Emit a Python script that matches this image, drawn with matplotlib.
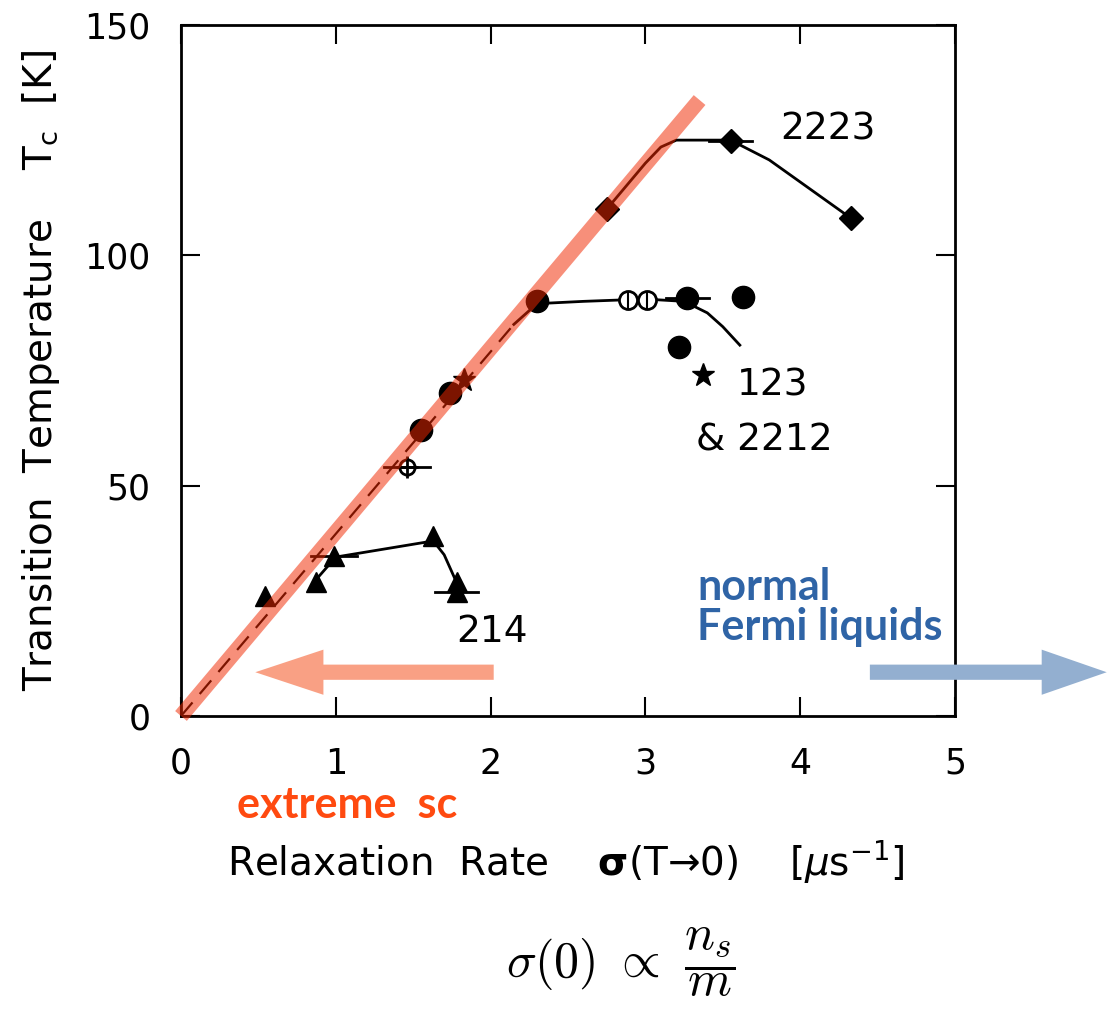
"""
Uemura plot: Tc vs muon relaxation rate.
"""

import matplotlib
matplotlib.use('Agg')
from matplotlib import pyplot as plt
from matplotlib.patches import FancyArrow

# 214 family (triangles)
x214 = [0.54, 0.87, 0.99, 1.63, 1.78, 1.78]
y214 = [26, 29, 34.7, 39, 29, 27]
curve214_x = [0.87, 1.0, 1.63, 1.70, 1.78]
curve214_y = [29.5, 34.5, 38, 35, 29]

# 123 & 2212 family (filled circles)
x123 = [1.55, 1.74, 2.30, 3.27, 3.63, 3.22]
y123 = [62, 70, 90, 90.7, 91, 80]
x123_open = [2.89, 3.01]
y123_open = [90.3, 90.3]
x123_cross = [1.46]
y123_cross = [54]
x2212_star = [1.83, 3.37]
y2212_star = [73, 74]
curve123_x = [2.15, 2.30, 2.6, 3.0, 3.25, 3.40, 3.50, 3.61]
curve123_y = [85, 89.5, 90, 90.5, 90, 87.5, 84.5, 80.5]

# 2223 family (diamonds)
x2223 = [2.75, 3.55, 4.33]
y2223 = [110, 124.8, 108]
curve2223_x = [2.75, 3.0, 3.1, 3.2, 3.55, 3.8, 4.33]
curve2223_y = [110, 120, 123.5, 125, 125, 120.7, 108]

# horizontal error bars (x, y, half width)
err_x = [0.99, 1.78, 1.46, 3.27, 3.55]
err_y = [34.7, 27, 54, 90.7, 124.8]
err_w = [0.15, 0.14, 0.15, 0.14, 0.14]

# linear trend line
trend_x = [0.0, 2.15]
trend_y = [0.0, 85]
band_x = [0.0, 3.35]
band_y = [0.0, 133.7]

fig = plt.figure(figsize=(11.07, 10.14), dpi=100)
ax = fig.add_axes([0.1635, 0.2939, 0.6992, 0.6815])

# black curves
ax.plot(trend_x, trend_y, color='black', lw=1.6, dashes=(8, 5))
ax.plot(curve214_x, curve214_y, color='black', lw=2)
ax.plot(curve123_x, curve123_y, color='black', lw=2)
ax.plot(curve2223_x, curve2223_y, color='black', lw=2)

for x, y, w in zip(err_x, err_y, err_w):
    ax.plot([x - w, x + w], [y, y], color='black', lw=2)

ax.plot(x214, y214, '^', color='black', ms=15)
ax.plot(x123, y123, 'o', color='black', ms=16)
ax.plot(x123_open, y123_open, 'o', mfc='white', mec='black', mew=2, ms=13)
ax.plot(x123_open, y123_open, '|', color='black', mew=1.5, ms=13)
ax.plot(x123_cross, y123_cross, 'o', mfc='none', mec='black', mew=2, ms=11)
ax.plot(x123_cross, y123_cross, '+', color='black', mew=2, ms=16)
ax.plot(x2212_star, y2212_star, '*', color='black', ms=17)
ax.plot(x2223, y2223, 'D', color='black', ms=12)

# orange band over the linear part
ax.plot(band_x, band_y, color='#F02800', alpha=0.52, lw=11,
        solid_capstyle='butt', clip_on=False, zorder=5)

# arrows
ax.add_patch(FancyArrow(2.02, 9.5, -1.54, 0, width=3.3, head_width=9.8,
                        head_length=0.44, length_includes_head=True,
                        color='#F9A084', lw=0, clip_on=False, zorder=6))
ax.add_patch(FancyArrow(4.45, 9.5, 1.53, 0, width=3.3, head_width=9.8,
                        head_length=0.42, length_includes_head=True,
                        color='#93AFD0', lw=0, clip_on=False, zorder=6))

# family labels
lbl = dict(fontsize=27, color='black', va='center', ha='left')
ax.text(3.87, 127.2, '2223', **lbl)
ax.text(3.59, 71.8, '123', **lbl)
ax.text(3.33, 59.9, '& 2212', **lbl)
ax.text(1.78, 18.2, '214', **lbl)

ax.set_xlim(0, 5)
ax.set_ylim(0, 150)
ax.set_xticks([0, 1, 2, 3, 4, 5])
ax.set_yticks([0, 50, 100, 150])
ax.tick_params(direction='in', length=14, width=1.5, labelsize=25, pad=22,
               top=True, right=True)
for s in ax.spines.values():
    s.set_linewidth(2)

fig.text(0.037, 0.635,
         'Transition  Temperature    T$_\\mathregular{c}$  [K]',
         rotation=90, fontsize=28, ha='center', va='center')
fig.text(0.511, 0.150,
         'Relaxation  Rate    $\\mathbf{\\sigma}$(T→0)    [$\\mu$s$^{-1}$]',
         fontsize=28, ha='center', va='center')

fig.text(0.214, 0.206, 'extreme  sc', fontsize=31, fontweight='bold',
         family='Lato', color='#FF4A10', ha='left', va='center')
fig.text(0.630, 0.401, 'normal\nFermi liquids', fontsize=31,
         fontweight='bold', family='Lato', color='#2F64A6', ha='left',
         va='center', linespacing=1.0)
fig.text(0.561, 0.051, r'$\sigma(0)\ \propto\ \dfrac{n_s}{m}$', fontsize=36,
         math_fontfamily='cm', ha='center', va='center')

fig.savefig('out.png', dpi=100)
